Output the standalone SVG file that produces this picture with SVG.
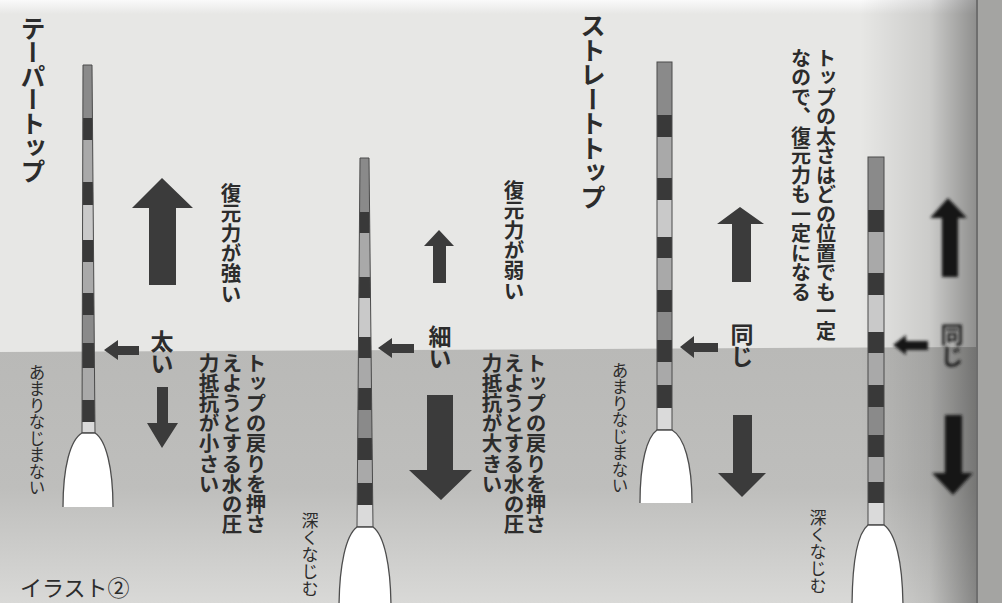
<svg xmlns="http://www.w3.org/2000/svg" width="1002" height="603" viewBox="0 0 1002 603">
  <defs>
    <style>
      .ink { fill: #2c2c2c; }
      .vt { writing-mode: vertical-rl; font-family: "Noto Sans CJK JP", "Noto Sans", sans-serif; }
      .b { font-weight: 700; }
      .r { font-weight: 400; }
      .t20 { font-size: 20.5px; letter-spacing: -0.4px; }
      .t22 { font-size: 23px; letter-spacing: -1px; }
      .arrow { fill: #3b3b3b; }
      .dk { fill: #393939; }
      .md { fill: #8a8a8a; }
      .lm { fill: #a9a9a9; }
      .lt { fill: #c9c9c9; }
      .vl { fill: #dadada; }
      .stem-edge { fill: none; stroke: #4a4a4a; stroke-width: 1; }
      .body-fill { fill: #ffffff; }
      .body-edge { fill: none; stroke: #4d4d4d; stroke-width: 1.3; }
    </style>
    <linearGradient id="water" x1="0" y1="0" x2="0" y2="1">
      <stop offset="0" stop-color="#b9b9b7"/>
      <stop offset="0.55" stop-color="#bebebc"/>
      <stop offset="1" stop-color="#d9d9d7"/>
    </linearGradient>
    <linearGradient id="gutter" x1="0" y1="0" x2="1" y2="0">
      <stop offset="0" stop-color="#000" stop-opacity="0"/>
      <stop offset="0.6" stop-color="#000" stop-opacity="0.12"/>
      <stop offset="1" stop-color="#000" stop-opacity="0.38"/>
    </linearGradient>
    <linearGradient id="topglow" x1="0" y1="0" x2="0" y2="1">
      <stop offset="0" stop-color="#fafafa"/>
      <stop offset="1" stop-color="#fafafa" stop-opacity="0"/>
    </linearGradient>
    <filter id="soft" x="-30%" y="-30%" width="160%" height="160%">
      <feGaussianBlur stdDeviation="1.6"/>
    </filter>
    <clipPath id="stem1"><polygon points="83,65 92,65 95,433 82,433"/></clipPath>
    <clipPath id="stem2"><polygon points="360,158 369,158 373,527 357,527"/></clipPath>
  </defs>

  <!-- paper and water -->
  <rect x="0" y="0" width="1002" height="603" fill="#e7e7e5"/>
  <rect x="0" y="0" width="1002" height="14" fill="url(#topglow)"/>
  <polygon points="0,352 980,347 980,603 0,603" fill="url(#water)"/>
  <rect x="860" y="0" width="116" height="603" fill="url(#gutter)"/>
  <rect x="976" y="0" width="26" height="603" fill="#a4a4a2"/>
  <rect x="976" y="0" width="2" height="603" fill="#6e6e6e"/>

  <!-- taper top, shallow -->
  <g id="float-taper-shallow">
    <g clip-path="url(#stem1)">
      <rect class="md" x="78" y="65" width="22" height="53"/>
      <rect class="dk" x="78" y="118" width="22" height="22"/>
      <rect class="lm" x="78" y="140" width="22" height="42"/>
      <rect class="dk" x="78" y="182" width="22" height="23"/>
      <rect class="lt" x="78" y="205" width="22" height="35"/>
      <rect class="dk" x="78" y="240" width="22" height="22"/>
      <rect class="lm" x="78" y="262" width="22" height="31"/>
      <rect class="dk" x="78" y="293" width="22" height="22"/>
      <rect class="md" x="78" y="315" width="22" height="28"/>
      <rect class="dk" x="78" y="343" width="22" height="25"/>
      <rect class="lm" x="78" y="368" width="22" height="32"/>
      <rect class="dk" x="78" y="400" width="22" height="22"/>
      <rect class="vl" x="78" y="422" width="22" height="11"/>
    </g>
    <polygon class="stem-edge" points="83,65 92,65 95,433 82,433"/>
    <path class="body-fill" d="M82,433 L95,433 C106,440 113,468 113,507 L63,507 C63,468 70,440 82,433 Z"/>
    <path class="body-edge" d="M63,507 C63,468 70,440 82,433 L95,433 C106,440 113,468 113,507"/>
  </g>

  <!-- taper top, deep -->
  <g id="float-taper-deep">
    <g clip-path="url(#stem2)">
      <rect class="md" x="354" y="158" width="22" height="54"/>
      <rect class="dk" x="354" y="212" width="22" height="21"/>
      <rect class="lm" x="354" y="233" width="22" height="44"/>
      <rect class="dk" x="354" y="277" width="22" height="21"/>
      <rect class="lt" x="354" y="298" width="22" height="39"/>
      <rect class="dk" x="354" y="337" width="22" height="21"/>
      <rect class="lm" x="354" y="358" width="22" height="30"/>
      <rect class="dk" x="354" y="388" width="22" height="22"/>
      <rect class="md" x="354" y="410" width="22" height="28"/>
      <rect class="dk" x="354" y="438" width="22" height="22"/>
      <rect class="lm" x="354" y="460" width="22" height="23"/>
      <rect class="dk" x="354" y="483" width="22" height="22"/>
      <rect class="vl" x="354" y="505" width="22" height="22"/>
    </g>
    <polygon class="stem-edge" points="360,158 369,158 373,527 357,527"/>
    <path class="body-fill" d="M357,527 L373,527 C384,535 391,565 391,610 L339,610 C339,565 346,535 357,527 Z"/>
    <path class="body-edge" d="M339,610 C339,565 346,535 357,527 L373,527 C384,535 391,565 391,610"/>
  </g>

  <!-- straight top, shallow -->
  <g id="float-straight-shallow">
    <rect class="md" x="657" y="62" width="15" height="53"/>
    <rect class="dk" x="657" y="115" width="15" height="22"/>
    <rect class="lm" x="657" y="137" width="15" height="41"/>
    <rect class="dk" x="657" y="178" width="15" height="22"/>
    <rect class="lt" x="657" y="200" width="15" height="37"/>
    <rect class="dk" x="657" y="237" width="15" height="21"/>
    <rect class="lm" x="657" y="258" width="15" height="32"/>
    <rect class="dk" x="657" y="290" width="15" height="22"/>
    <rect class="md" x="657" y="312" width="15" height="28"/>
    <rect class="dk" x="657" y="340" width="15" height="22"/>
    <rect class="lm" x="657" y="362" width="15" height="23"/>
    <rect class="dk" x="657" y="385" width="15" height="23"/>
    <rect class="vl" x="657" y="408" width="15" height="22"/>
    <rect class="stem-edge" x="657" y="62" width="15" height="368"/>
    <path class="body-fill" d="M657,430 L672,430 C684,437 692,462 692,503 L640,503 C640,462 647,437 657,430 Z"/>
    <path class="body-edge" d="M640,503 C640,462 647,437 657,430 L672,430 C684,437 692,462 692,503"/>
  </g>

  <!-- straight top, deep -->
  <g id="float-straight-deep">
    <rect class="md" x="868" y="157" width="16" height="53"/>
    <rect class="dk" x="868" y="210" width="16" height="22"/>
    <rect class="lm" x="868" y="232" width="16" height="41"/>
    <rect class="dk" x="868" y="273" width="16" height="22"/>
    <rect class="lt" x="868" y="295" width="16" height="37"/>
    <rect class="dk" x="868" y="332" width="16" height="21"/>
    <rect class="lm" x="868" y="353" width="16" height="32"/>
    <rect class="dk" x="868" y="385" width="16" height="22"/>
    <rect class="md" x="868" y="407" width="16" height="28"/>
    <rect class="dk" x="868" y="435" width="16" height="22"/>
    <rect class="lm" x="868" y="457" width="16" height="25"/>
    <rect class="dk" x="868" y="482" width="16" height="21"/>
    <rect class="vl" x="868" y="503" width="16" height="22"/>
    <rect class="stem-edge" x="868" y="157" width="16" height="368"/>
    <path class="body-fill" d="M868,525 L884,525 C895,533 903,560 903,610 L852,610 C852,560 858,533 868,525 Z"/>
    <path class="body-edge" d="M852,610 C852,560 858,533 868,525 L884,525 C895,533 903,560 903,610"/>
  </g>

  <!-- arrows -->
  <g id="connectors">
    <polygon class="arrow" points="162,178 193,208 176,208 176,285 149,285 149,208 132,208"/>
    <polygon class="arrow" points="104,350 118,340 118,346 139,346 139,355 118,355 118,360"/>
    <polygon class="arrow" points="162,448 147,423 157,423 157,387 168,387 168,423 178,423"/>

    <polygon class="arrow" points="439,230 454,246 446,246 446,283 433,283 433,246 424,246"/>
    <polygon class="arrow" points="378,348 392,338 392,344 414,344 414,353 392,353 392,358"/>
    <polygon class="arrow" points="441,500 409,470 427,470 427,395 453,395 453,470 472,470"/>

    <polygon class="arrow" points="740,207 764,224 751,224 751,282 732,282 732,224 717,224"/>
    <polygon class="arrow" points="680,347 694,336 694,343 718,343 718,352 694,352 694,358"/>
    <polygon class="arrow" points="742,497 718,473 733,473 733,415 752,415 752,473 766,473"/>

    <g filter="url(#soft)" fill="#161616">
      <polygon points="948,198 967,218 958,218 958,277 942,277 942,218 930,218"/>
      <polygon points="893,345 906,335 906,341 928,341 928,350 906,350 906,355"/>
      <polygon points="953,495 932,473 945,473 945,415 962,415 962,473 973,473"/>
    </g>
  </g>

  <!-- labels -->
  <g id="label-taper-title"><text class="vt b ink" x="33" y="16" font-size="25" letter-spacing="-1.2">テーパートップ</text></g>
  <g id="label-strong"><text class="vt b ink t20" x="231" y="183">復元力が強い</text></g>
  <g id="label-thick"><text class="vt b ink t22" x="162" y="330">太い</text></g>
  <g id="label-shallow-1"><text class="vt r ink" x="37" y="364" font-size="16.5">あまりなじまない</text></g>
  <g id="label-small-resist">
    <text class="vt b ink t20" x="256" y="353">トップの戻りを押さ</text>
    <text class="vt b ink t20" x="232" y="353">えようとする水の圧</text>
    <text class="vt b ink t20" x="209" y="353">力抵抗が小さい</text>
  </g>
  <g id="label-caption"><text x="20" y="596" font-size="22" font-family="Noto Sans CJK JP, Noto Sans, sans-serif" class="ink">イラスト②</text></g>

  <g id="label-weak"><text class="vt b ink t20" x="514" y="180">復元力が弱い</text></g>
  <g id="label-thin"><text class="vt b ink t22" x="440" y="325">細い</text></g>
  <g id="label-deep-1"><text class="vt r ink" x="310" y="512" font-size="17">深くなじむ</text></g>
  <g id="label-large-resist">
    <text class="vt b ink t20" x="536" y="353">トップの戻りを押さ</text>
    <text class="vt b ink t20" x="514" y="353">えようとする水の圧</text>
    <text class="vt b ink t20" x="492" y="353">力抵抗が大きい</text>
  </g>

  <g id="label-straight-title"><text class="vt b ink" x="593" y="13" font-size="25.5" letter-spacing="-1">ストレートトップ</text></g>
  <g id="label-constant">
    <text class="vt b ink" x="826" y="48" font-size="20" letter-spacing="-0.5">トップの太さはどの位置でも一定</text>
    <text class="vt b ink" x="801" y="48" font-size="20" letter-spacing="-0.5">なので、復元力も一定になる</text>
  </g>
  <g id="label-same-1"><text class="vt b ink t22" x="742" y="323">同じ</text></g>
  <g id="label-shallow-2"><text class="vt r ink" x="620" y="362" font-size="16.5">あまりなじまない</text></g>
  <g id="label-same-2"><text class="vt b t22" x="952" y="323" fill="#1c1c1c" filter="url(#soft)">同じ</text></g>
  <g id="label-deep-2"><text class="vt r ink" x="818" y="509" font-size="17">深くなじむ</text></g>
</svg>
